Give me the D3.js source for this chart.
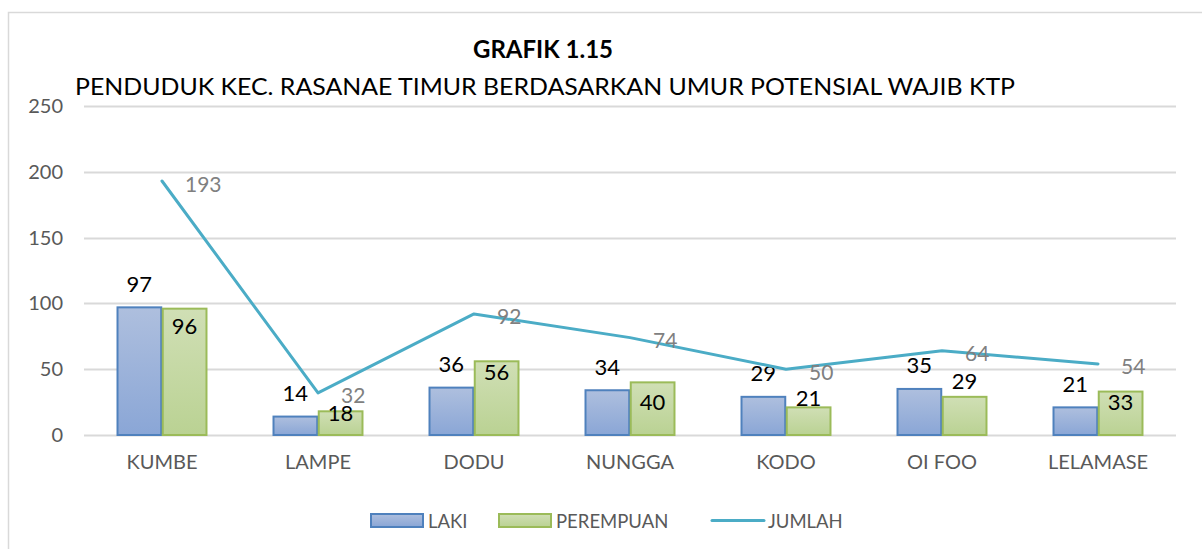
<!DOCTYPE html>
<html>
<head>
<meta charset="utf-8">
<script src="https://cdn.jsdelivr.net/npm/d3@7"></script>
<style>
  body { margin: 0; background: #fff; }
  svg { display: block; font-family: Lato, "Open Sans", sans-serif; }
</style>
</head>
<body>
<svg id="chart" width="1202" height="549"></svg>
<script>
const categories = ['KUMBE', 'LAMPE', 'DODU', 'NUNGGA', 'KODO', 'OI FOO', 'LELAMASE'];
const laki = [97, 14, 36, 34, 29, 35, 21];
const perempuan = [96, 18, 56, 40, 21, 29, 33];
const jumlah = [193, 32, 92, 74, 50, 64, 54];
const yTicks = [0, 50, 100, 150, 200, 250];
// vertical nudge of the green labels, as Excel placed them
const perempuanLabelDy = [17, 1, 10, 19, -10, -16, 10];

const svg = d3.select('#chart');
const margin = { left: 84, right: 1176, top: 106, bottom: 435 };

// frame
svg.append('path')
  .attr('d', 'M8.5,549 V12.5 H1202')
  .attr('fill', 'none')
  .attr('stroke', '#d9d9d9')
  .attr('stroke-width', 1.5);

const x = d3.scaleBand()
  .domain(categories)
  .range([margin.left, margin.right])
  .paddingInner(0.42)
  .paddingOuter(0.21);
const x1 = d3.scaleBand().domain(['laki', 'perempuan']).range([0, x.bandwidth()]);
const y = d3.scaleLinear().domain([0, 250]).range([margin.bottom, margin.top]);
const cx = c => x(c) + x.bandwidth() / 2;

// gradients
const defs = svg.append('defs');
function grad(id, top, bottom) {
  const g = defs.append('linearGradient').attr('id', id)
    .attr('x1', 0).attr('y1', 0).attr('x2', 0).attr('y2', 1);
  g.append('stop').attr('offset', '0%').attr('stop-color', top);
  g.append('stop').attr('offset', '100%').attr('stop-color', bottom);
}
grad('gBlue', '#aebfde', '#8aa6d6');
grad('gGreen', '#d0dfb5', '#bad293');

// grid
svg.append('g')
  .selectAll('line')
  .data(yTicks)
  .enter()
  .append('line')
  .attr('x1', margin.left)
  .attr('x2', margin.right)
  .attr('y1', d => Math.round(y(d)) + 0.5)
  .attr('y2', d => Math.round(y(d)) + 0.5)
  .attr('stroke', '#d9d9d9')
  .attr('stroke-width', 2);

// y axis labels
const yAxis = svg.append('g')
  .attr('transform', `translate(${margin.left - 21},0)`)
  .call(d3.axisLeft(y).tickValues(yTicks).tickSize(0).tickPadding(0));
yAxis.select('.domain').remove();
yAxis.selectAll('text')
  .attr('fill', '#595959')
  .style('font-size', '20px')
  .style('font-family', 'Lato, sans-serif');

// x axis labels
const xAxis = svg.append('g')
  .attr('transform', `translate(0,${margin.bottom + 20})`)
  .call(d3.axisBottom(x).tickSize(0).tickPadding(0));
xAxis.select('.domain').remove();
xAxis.selectAll('text')
  .attr('fill', '#595959')
  .attr('dy', '0.72em')
  .style('font-size', '20px')
  .style('font-family', 'Lato, sans-serif');

// bars
const series = [
  { key: 'laki', values: laki, fill: 'url(#gBlue)', stroke: '#4f81bd' },
  { key: 'perempuan', values: perempuan, fill: 'url(#gGreen)', stroke: '#9bbb59' },
];
series.forEach((s) => {
  svg.append('g')
    .selectAll('rect')
    .data(categories)
    .enter()
    .append('rect')
    .attr('x', c => x(c) + x1(s.key) + 0.75)
    .attr('y', (c, i) => y(s.values[i]))
    .attr('width', x1.bandwidth() - 1.5)
    .attr('height', (c, i) => y(0) - y(s.values[i]))
    .attr('fill', s.fill)
    .attr('stroke', s.stroke)
    .attr('stroke-width', 2);
});

// bar labels
svg.append('g')
  .selectAll('text')
  .data(categories)
  .enter()
  .append('text')
  .attr('x', c => x(c) + x1('laki') + x1.bandwidth() / 2)
  .attr('y', (c, i) => y(laki[i]) - 24)
  .attr('text-anchor', 'middle')
  .attr('dominant-baseline', 'central')
  .attr('fill', '#000')
  .style('font-size', '22px')
  .text((c, i) => laki[i]);

svg.append('g')
  .selectAll('text')
  .data(categories)
  .enter()
  .append('text')
  .attr('x', c => x(c) + x1('perempuan') + x1.bandwidth() / 2)
  .attr('y', (c, i) => y(perempuan[i]) + perempuanLabelDy[i])
  .attr('text-anchor', 'middle')
  .attr('dominant-baseline', 'central')
  .attr('fill', '#000')
  .style('font-size', '22px')
  .text((c, i) => perempuan[i]);

// line
const line = d3.line()
  .x(d => cx(d.c))
  .y(d => y(d.v));
const pts = categories.map((c, i) => ({ c, v: jumlah[i] }));
svg.append('path')
  .datum(pts)
  .attr('d', line)
  .attr('fill', 'none')
  .attr('stroke', '#4bacc6')
  .attr('stroke-width', 3)
  .attr('stroke-linejoin', 'round')
  .attr('stroke-linecap', 'round');

svg.append('g')
  .selectAll('text')
  .data(pts)
  .enter()
  .append('text')
  .attr('x', d => cx(d.c) + 23)
  .attr('y', d => y(d.v) + 2)
  .attr('dominant-baseline', 'central')
  .attr('fill', '#808080')
  .style('font-size', '21px')
  .text(d => d.v);

// titles
svg.append('text')
  .attr('x', 543)
  .attr('y', 48)
  .attr('text-anchor', 'middle')
  .attr('dominant-baseline', 'central')
  .style('font-size', '24px')
  .style('font-weight', 'bold')
  .text('GRAFIK 1.15');
svg.append('text')
  .attr('x', 545)
  .attr('y', 86)
  .attr('text-anchor', 'middle')
  .attr('dominant-baseline', 'central')
  .style('font-size', '23px')
  .attr('textLength', 940)
  .attr('lengthAdjust', 'spacingAndGlyphs')
  .text('PENDUDUK KEC. RASANAE TIMUR BERDASARKAN UMUR POTENSIAL WAJIB KTP');

// legend
const legend = svg.append('g').attr('transform', 'translate(0,520)');
legend.append('rect').attr('x', 371).attr('y', -6).attr('width', 52).attr('height', 13)
  .attr('fill', 'url(#gBlue)').attr('stroke', '#4f81bd').attr('stroke-width', 2);
legend.append('rect').attr('x', 499).attr('y', -6).attr('width', 52).attr('height', 13)
  .attr('fill', 'url(#gGreen)').attr('stroke', '#9bbb59').attr('stroke-width', 2);
legend.append('line').attr('x1', 712).attr('x2', 764).attr('y1', 0.5).attr('y2', 0.5)
  .attr('stroke', '#4bacc6').attr('stroke-width', 3).attr('stroke-linecap', 'round');
[['LAKI', 428], ['PEREMPUAN', 556], ['JUMLAH', 768]].forEach(([t, lx]) => {
  legend.append('text')
    .attr('x', lx)
    .attr('y', 1)
    .attr('dominant-baseline', 'central')
    .attr('fill', '#595959')
    .style('font-size', '18.5px')
    .text(t);
});
</script>
</body>
</html>
